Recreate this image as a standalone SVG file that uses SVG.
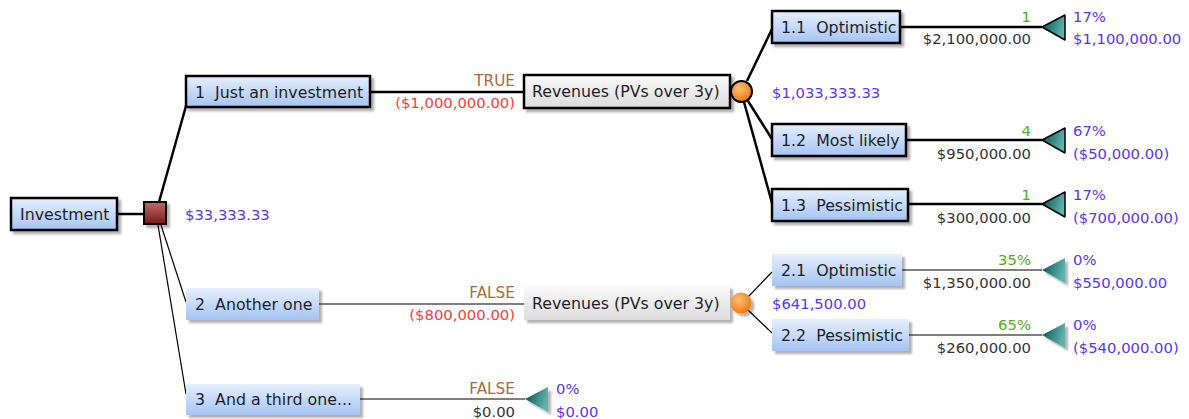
<svg xmlns="http://www.w3.org/2000/svg" width="1189" height="419" viewBox="0 0 1189 419">
<style>
.lbl{font-family:"DejaVu Sans",Verdana,sans-serif;font-size:15.8px;fill:#1e1e2a}
.v{font-family:"DejaVu Sans",Verdana,sans-serif;font-size:14.8px}
.ev{fill:#5a35f0}
.pr{fill:#55a82c}
.cd{fill:#a86a3c;font-size:15.3px}
.ng{fill:#ff3b3b}
.py{fill:#333}
.r{text-anchor:end}
.opt{stroke:#000;stroke-width:2.5;fill:none}
.sub{stroke:#000;stroke-width:1.2;fill:none}
.bn{fill:url(#gBlue)}
.gn{fill:url(#gGrey)}
.bd{stroke:#000;stroke-width:2.5}
.sh{filter:url(#shadow)}
.tri{fill:url(#gTeal)}
</style>
<defs>
<linearGradient id="gBlue" x1="0" y1="0" x2="0" y2="1"><stop offset="0" stop-color="#e6effe"/><stop offset="1" stop-color="#a4c4f4"/></linearGradient>
<linearGradient id="gGrey" x1="0" y1="0" x2="0" y2="1"><stop offset="0" stop-color="#fafafa"/><stop offset="1" stop-color="#dcdcdc"/></linearGradient>
<linearGradient id="gRed" x1="0" y1="0" x2="0" y2="1"><stop offset="0" stop-color="#c06a6a"/><stop offset="1" stop-color="#7a1818"/></linearGradient>
<radialGradient id="gOrange" cx="0.4" cy="0.35" r="0.65"><stop offset="0" stop-color="#ffc078"/><stop offset="1" stop-color="#ee7a10"/></radialGradient>
<linearGradient id="gTeal" x1="0" y1="0" x2="1" y2="0.3"><stop offset="0" stop-color="#064e4c"/><stop offset="1" stop-color="#5cb2ac"/></linearGradient>
<filter id="shadow" x="-10%" y="-20%" width="130%" height="160%"><feDropShadow dx="3" dy="3" stdDeviation="1.2" flood-color="#000" flood-opacity="0.3"/></filter>
</defs>
<rect width="1189" height="419" fill="#fff"/>

<g id="connectors">
<line class="opt" x1="117" y1="214" x2="144" y2="214"/>
<line class="opt" x1="159" y1="202" x2="186" y2="106"/>
<line class="sub" x1="161" y1="225" x2="186" y2="302"/>
<line class="sub" x1="158" y1="225" x2="186" y2="394"/>
<line class="opt" x1="370" y1="92" x2="524" y2="92"/>
<line class="sub" x1="319" y1="304" x2="524" y2="304"/>
<line class="sub" x1="360" y1="399" x2="525" y2="399"/>
<line class="opt" x1="747" y1="81" x2="772" y2="29"/>
<line class="opt" x1="748" y1="101" x2="772" y2="139"/>
<line class="opt" x1="744" y1="102" x2="772" y2="203"/>
<line class="sub" x1="748" y1="297" x2="772" y2="272"/>
<line class="sub" x1="748" y1="310" x2="772" y2="333"/>
<line class="opt" x1="900" y1="27" x2="1042" y2="27"/>
<line class="opt" x1="906" y1="140" x2="1042" y2="140"/>
<line class="opt" x1="908" y1="204" x2="1042" y2="204"/>
<line class="sub" x1="902" y1="270" x2="1042" y2="270"/>
<line class="sub" x1="909" y1="335" x2="1042" y2="335"/>
</g>

<g id="n-investment">
<rect class="bn bd sh" x="11" y="198" width="106" height="32"/>
<text class="lbl" x="20" y="220">Investment</text>
</g>
<g id="n-decision">
<rect class="sh" x="144" y="202" width="22" height="22" fill="url(#gRed)" stroke="#000" stroke-width="2"/>
<text class="v ev" x="185" y="220">$33,333.33</text>
</g>

<g id="n-1">
<rect class="bn bd sh" x="186" y="76" width="184" height="31"/>
<text class="lbl" x="195" y="97.5" xml:space="preserve">1  Just an investment</text>
<text class="v cd r" x="515" y="86">TRUE</text>
<text class="v ng r" x="515" y="108">($1,000,000.00)</text>
</g>
<g id="n-rev1">
<rect class="gn bd sh" x="524" y="75" width="206" height="33"/>
<text class="lbl" x="532" y="97">Revenues (PVs over 3y)</text>
</g>
<g id="n-chance1">
<circle cx="741.5" cy="91.5" r="10.5" fill="url(#gOrange)" stroke="#000" stroke-width="2"/>
<text class="v ev" x="772" y="98">$1,033,333.33</text>
</g>

<g id="n-1-1">
<rect class="bn bd sh" x="772" y="11" width="128" height="32"/>
<text class="lbl" x="781" y="32.5" xml:space="preserve">1.1  Optimistic</text>
<text class="v pr r" x="1031" y="22">1</text>
<text class="v py r" x="1031" y="44">$2,100,000.00</text>
</g>
<g id="t-1-1">
<polygon class="tri" points="1042,27 1065,15 1065,40" stroke="#000" stroke-width="1.5" stroke-linejoin="round"/>
<text class="v ev" x="1073" y="22">17%</text>
<text class="v ev" x="1073" y="44">$1,100,000.00</text>
</g>

<g id="n-1-2">
<rect class="bn bd sh" x="772" y="124" width="134" height="32"/>
<text class="lbl" x="781" y="145.5" xml:space="preserve">1.2  Most likely</text>
<text class="v pr r" x="1031" y="136">4</text>
<text class="v py r" x="1031" y="159">$950,000.00</text>
</g>
<g id="t-1-2">
<polygon class="tri" points="1042,140 1065,128 1065,153" stroke="#000" stroke-width="1.5" stroke-linejoin="round"/>
<text class="v ev" x="1073" y="136">67%</text>
<text class="v ev" x="1073" y="159">($50,000.00)</text>
</g>

<g id="n-1-3">
<rect class="bn bd sh" x="772" y="189" width="136" height="32"/>
<text class="lbl" x="781" y="210.5" xml:space="preserve">1.3  Pessimistic</text>
<text class="v pr r" x="1031" y="200">1</text>
<text class="v py r" x="1031" y="223">$300,000.00</text>
</g>
<g id="t-1-3">
<polygon class="tri" points="1042,204 1065,192 1065,217" stroke="#000" stroke-width="1.5" stroke-linejoin="round"/>
<text class="v ev" x="1073" y="200">17%</text>
<text class="v ev" x="1073" y="223">($700,000.00)</text>
</g>

<g id="n-2">
<rect class="bn sh" x="186" y="288" width="133" height="32"/>
<text class="lbl" x="195" y="309.5" xml:space="preserve">2  Another one</text>
<text class="v cd r" x="515" y="298">FALSE</text>
<text class="v ng r" x="515" y="320">($800,000.00)</text>
</g>
<g id="n-rev2">
<rect class="gn sh" x="524" y="286" width="206" height="34"/>
<text class="lbl" x="532" y="308.5">Revenues (PVs over 3y)</text>
</g>
<g id="n-chance2">
<circle class="sh" cx="741" cy="303" r="10.5" fill="url(#gOrange)"/>
<text class="v ev" x="772" y="309">$641,500.00</text>
</g>

<g id="n-2-1">
<rect class="bn sh" x="772" y="254" width="130" height="32"/>
<text class="lbl" x="781" y="275.5" xml:space="preserve">2.1  Optimistic</text>
<text class="v pr r" x="1031" y="265">35%</text>
<text class="v py r" x="1031" y="288">$1,350,000.00</text>
</g>
<g id="t-2-1">
<polygon class="tri sh" points="1042,270 1065,258 1065,283"/>
<text class="v ev" x="1073" y="265">0%</text>
<text class="v ev" x="1073" y="288">$550,000.00</text>
</g>

<g id="n-2-2">
<rect class="bn sh" x="772" y="319" width="137" height="32"/>
<text class="lbl" x="781" y="340.5" xml:space="preserve">2.2  Pessimistic</text>
<text class="v pr r" x="1031" y="330">65%</text>
<text class="v py r" x="1031" y="353">$260,000.00</text>
</g>
<g id="t-2-2">
<polygon class="tri sh" points="1042,335 1065,323 1065,348"/>
<text class="v ev" x="1073" y="330">0%</text>
<text class="v ev" x="1073" y="353">($540,000.00)</text>
</g>

<g id="n-3">
<rect class="bn sh" x="186" y="384" width="174" height="31"/>
<text class="lbl" x="195" y="405" xml:space="preserve">3  And a third one...</text>
<text class="v cd r" x="515" y="394">FALSE</text>
<text class="v py r" x="515" y="417">$0.00</text>
</g>
<g id="t-3">
<polygon class="tri sh" points="525,399 548,387 548,412"/>
<text class="v ev" x="556" y="394">0%</text>
<text class="v ev" x="556" y="417">$0.00</text>
</g>
</svg>
